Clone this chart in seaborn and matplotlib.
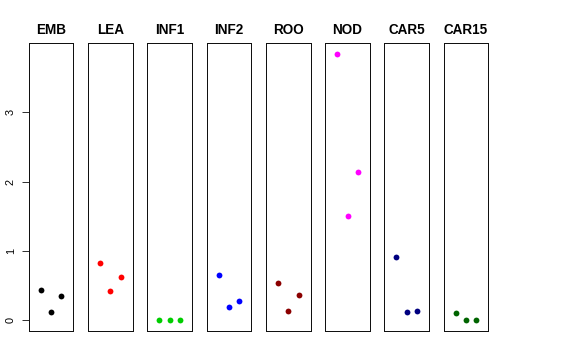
import matplotlib
matplotlib.use("Agg")
import matplotlib.pyplot as plt
import seaborn as sns
import pandas as pd

groups = ["EMB", "LEA", "INF1", "INF2", "ROO", "NOD", "CAR5", "CAR15"]
colors = ["#000000", "#FF0000", "#00CD00", "#0000FF", "#8B0000", "#FF00FF", "#000080", "#006400"]
emb = [0.433, 0.12, 0.355]
lea = [0.827, 0.423, 0.62]
inf1 = [0.0, 0.0, 0.0]
inf2 = [0.658, 0.196, 0.283]
roo = [0.534, 0.134, 0.365]
nod = [3.85, 1.505, 2.136]
car5 = [0.913, 0.12, 0.13]
car15 = [0.105, 0.0, 0.0]
values = [emb, lea, inf1, inf2, roo, nod, car5, car15]
replicate = [1, 2, 3]
yticks = [0, 1, 2, 3]

sns.set_theme(style="white")
plt.rcParams['font.family'] = ['Liberation Sans', 'DejaVu Sans']
plt.rcParams['text.color'] = 'black'
plt.rcParams['ytick.color'] = 'black'
plt.rcParams['ytick.labelcolor'] = 'black'

fig, axes = plt.subplots(1, 8, figsize=(8, 5), dpi=72, sharey=True)
fig.subplots_adjust(left=0.0498, right=0.848, top=0.881, bottom=0.0806, wspace=0.326)

for ax, g, c, v in zip(axes, groups, colors, values):
    df = pd.DataFrame({"rep": replicate, "val": v})
    sns.scatterplot(data=df, x="rep", y="val", color=c, s=34, linewidth=0, ax=ax)
    ax.set_xlim(2 - 2.17, 2 + 2.17)
    ax.set_ylim(-0.154, 4.004)
    ax.set_xlabel("")
    ax.set_ylabel("")
    ax.set_xticks([])
    ax.set_title(g, fontsize=13.5, fontweight="bold", pad=9, color="black")
    for sp in ax.spines.values():
        sp.set_visible(True)
        sp.set_color("#111111")
        sp.set_linewidth(1.0)

axes[0].set_yticks(yticks)
axes[0].set_yticklabels([str(t) for t in yticks], rotation=90, va="center", fontsize=11, color="black")
axes[0].tick_params(axis="y", left=True, length=7, width=0.8, pad=6, color="black")
for ax in axes[1:]:
    ax.tick_params(axis="y", left=False, labelleft=False)

fig.savefig("out.png", dpi=72)
